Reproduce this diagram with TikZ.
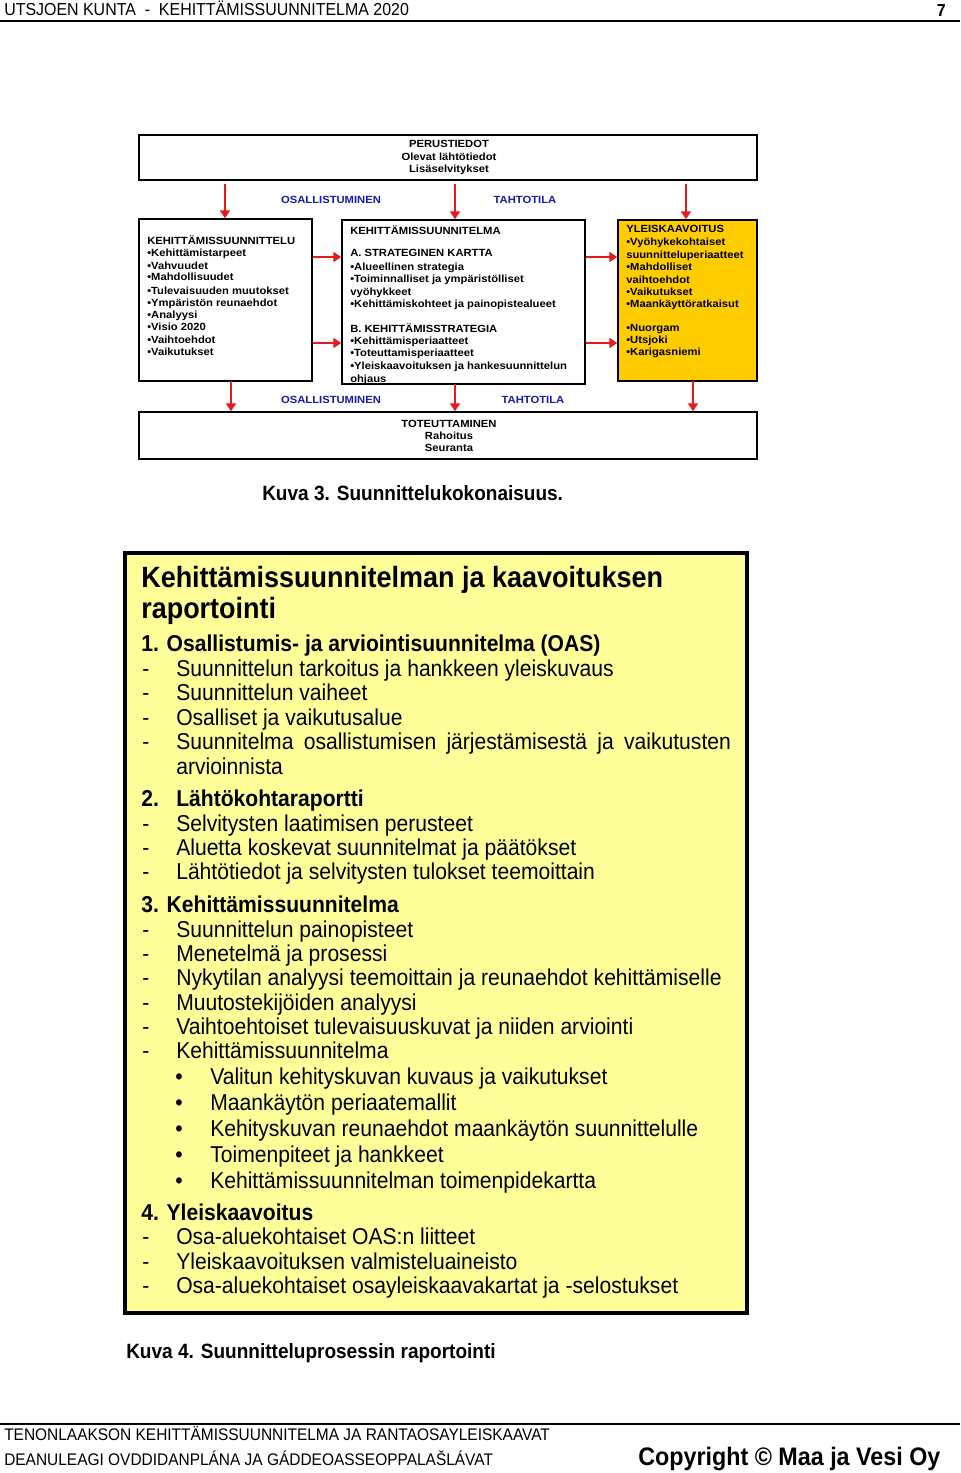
\documentclass[tikz,border=0pt]{standalone}
\usepackage{fontspec}
\setmainfont{Liberation Sans}
\newfontfamily\narrowfont[FakeStretch=0.92]{Liberation Sans}
\newfontfamily\widefont[FakeStretch=1.08]{Liberation Sans}
\usetikzlibrary{arrows.meta,fit}
\definecolor{arrred}{RGB}{228,28,28}
\definecolor{lblue}{RGB}{25,25,170}
\definecolor{gold}{RGB}{255,204,0}
\definecolor{paleyel}{RGB}{255,255,153}
\tikzset{
  frame/.style={draw, line width=1.1pt, inner sep=0pt},
  redarr/.style={draw=arrred, line width=1.7pt, -{Triangle[length=6pt,width=7.5pt]}},
  tiny/.style={font=\widefont\fontsize{7.8}{9}\selectfont\bfseries, anchor=base west, inner sep=0pt},
  tinyc/.style={tiny, anchor=base},
  lab/.style={tiny, anchor=base, text=lblue},
  body/.style={font=\narrowfont\fontsize{17.2}{20}\selectfont, anchor=base west, inner sep=0pt},
  bhead/.style={body, font=\narrowfont\fontsize{17.2}{20}\selectfont\bfseries},
  capt/.style={font=\narrowfont\fontsize{15.5}{18}\selectfont\bfseries, anchor=base west, inner sep=0pt},
  foot/.style={font=\narrowfont\fontsize{12.6}{14}\selectfont, anchor=base west, inner sep=0pt}
}
\begin{document}
\begin{tikzpicture}[x=0.75pt,y=-0.75pt]
  \useasboundingbox (0,0) rectangle (960,1473);
  % page header
  \node[foot, font=\narrowfont\fontsize{13}{15}\selectfont] (hdr) at (4,16) {UTSJOEN KUNTA \ - \ KEHITTÄMISSUUNNITELMA 2020};
  \node[foot, font=\narrowfont\fontsize{13}{15}\selectfont\bfseries, anchor=base east] (pgno) at (946,17) {7};
  \coordinate (hl) at (0,21);
  \coordinate (hr) at (960,21);
  \draw[line width=1.2pt] (hl) -- (hr);

  % Kuva 3
  \node[frame, fit={(139,135) (757,180)}] (perus) {};
  \node[tinyc] (p1) at (449,148) {PERUSTIEDOT};
  \node[tinyc] (p2) at (449,161) {Olevat lähtötiedot};
  \node[tinyc] (p3) at (449,173) {Lisäselvitykset};

  \node[frame, fit={(139,219) (312,381)}] (lbox) {};
  \node[frame, fit={(342,220) (585,384)}] (mbox) {};
  \node[frame, fill=gold, fit={(618,220) (757,381)}] (rbox) {};
  \node[frame, fit={(139,412) (757,459)}] (toteu) {};

  \foreach \yy/\tx in {245/KEHITTÄMISSUUNNITTELU, 257/•Kehittämistarpeet, 269/•Vahvuudet,
      281/•Mahdollisuudet, 294/•Tulevaisuuden muutokset, 306/•Ympäristön reunaehdot,
      318/•Analyysi, 330/•Visio 2020, 343/•Vaihtoehdot, 355/•Vaikutukset}
    \node[tiny] (l\yy) at (147,\yy) {\tx};

  \foreach \yy/\tx in {234/KEHITTÄMISSUUNNITELMA, 257/A. STRATEGINEN KARTTA,
      270/•Alueellinen strategia, 282/•Toiminnalliset ja ympäristölliset,
      295/vyöhykkeet, 307/•Kehittämiskohteet ja painopistealueet,
      332/B. KEHITTÄMISSTRATEGIA, 344/•Kehittämisperiaatteet,
      356/•Toteuttamisperiaatteet, 369/•Yleiskaavoituksen ja hankesuunnittelun,
      382/ohjaus}
    \node[tiny] (m\yy) at (350,\yy) {\tx};

  \foreach \yy/\tx in {233/YLEISKAAVOITUS, 246/•Vyöhykekohtaiset,
      258/suunnitteluperiaatteet, 271/•Mahdolliset, 283/vaihtoehdot,
      295/•Vaikutukset, 307/•Maankäyttöratkaisut, 331/•Nuorgam,
      343/•Utsjoki, 355/•Karigasniemi}
    \node[tiny] (r\yy) at (626,\yy) {\tx};

  \node[tinyc] (t1) at (449,427) {TOTEUTTAMINEN};
  \node[tinyc] (t2) at (449,439) {Rahoitus};
  \node[tinyc] (t3) at (449,451) {Seuranta};

  \node[lab] (os1) at (331,204) {OSALLISTUMINEN};
  \node[lab] (ta1) at (525,204) {TAHTOTILA};
  \node[lab] (os2) at (331,403) {OSALLISTUMINEN};
  \node[lab] (ta2) at (533,403) {TAHTOTILA};

  \coordinate (a1) at (225,184);
  \coordinate (a2) at (455,184);
  \coordinate (a3) at (686,184);
  \coordinate (b1) at (231,381);
  \coordinate (b2) at (455,384);
  \coordinate (b3) at (693,381);
  \coordinate (h1) at (0,257);
  \coordinate (h2) at (0,343);
  \draw[redarr] (a1) -- (a1 |- lbox.north);
  \draw[redarr] (a2) -- (a2 |- mbox.north);
  \draw[redarr] (a3) -- (a3 |- rbox.north);
  \foreach \h in {h1,h2} {
    \draw[redarr] (lbox.east |- \h) -- (mbox.west |- \h);
    \draw[redarr] (mbox.east |- \h) -- (rbox.west |- \h);
  }
  \draw[redarr] (b1) -- (b1 |- toteu.north);
  \draw[redarr] (b2) -- (b2 |- toteu.north);
  \draw[redarr] (b3) -- (b3 |- toteu.north);

  \node[capt] (kuva3) at (262,500) {Kuva 3. Suunnittelukokonaisuus.};

  % Kuva 4
  \node[draw, line width=3pt, fill=paleyel, inner sep=0pt, fit={(125,553) (747,1313)}] (rep) {};
  \node[bhead, font=\narrowfont\fontsize{22}{26}\selectfont\bfseries] (tt1) at (141,587) {Kehittämissuunnitelman ja kaavoituksen};
  \node[bhead, font=\narrowfont\fontsize{22}{26}\selectfont\bfseries] (tt2) at (141,618) {raportointi};

  \node[bhead] (s1) at (141,651) {1. Osallistumis- ja arviointisuunnitelma (OAS)};
  \foreach \yy/\tx in {676/Suunnittelun tarkoitus ja hankkeen yleiskuvaus,
      700/Suunnittelun vaiheet, 725/Osalliset ja vaikutusalue}
    {\node[body] (d\yy) at (142,\yy) {-};
     \node[body] (i\yy) at (176,\yy) {\tx};}
  \node[body] (d749) at (142,749) {-};
  \node[body] (i749) at (176,749) {\makebox[416pt][s]{Suunnitelma osallistumisen järjestämisestä ja vaikutusten}};
  \node[body] (i774) at (176,774) {arvioinnista};

  \node[bhead] (s2n) at (141,806) {2.};
  \node[bhead] (s2) at (176,806) {Lähtökohtaraportti};
  \foreach \yy/\tx in {831/Selvitysten laatimisen perusteet,
      855/Aluetta koskevat suunnitelmat ja päätökset,
      879/Lähtötiedot ja selvitysten tulokset teemoittain}
    {\node[body] (d\yy) at (142,\yy) {-};
     \node[body] (i\yy) at (176,\yy) {\tx};}

  \node[bhead] (s3) at (141,912) {3. Kehittämissuunnitelma};
  \foreach \yy/\tx in {937/Suunnittelun painopisteet, 961/Menetelmä ja prosessi,
      985/Nykytilan analyysi teemoittain ja reunaehdot kehittämiselle,
      1010/Muutostekijöiden analyysi,
      1034/Vaihtoehtoiset tulevaisuuskuvat ja niiden arviointi,
      1058/Kehittämissuunnitelma}
    {\node[body] (d\yy) at (142,\yy) {-};
     \node[body] (i\yy) at (176,\yy) {\tx};}
  \foreach \yy/\tx in {1084/Valitun kehityskuvan kuvaus ja vaikutukset,
      1110/Maankäytön periaatemallit,
      1136/Kehityskuvan reunaehdot maankäytön suunnittelulle,
      1162/Toimenpiteet ja hankkeet,
      1188/Kehittämissuunnitelman toimenpidekartta}
    {\node[body] (b\yy) at (175,\yy) {•};
     \node[body] (i\yy) at (210,\yy) {\tx};}

  \node[bhead] (s4) at (141,1220) {4. Yleiskaavoitus};
  \foreach \yy/\tx in {1244/Osa-aluekohtaiset OAS:n liitteet,
      1269/Yleiskaavoituksen valmisteluaineisto,
      1293/Osa-aluekohtaiset osayleiskaavakartat ja -selostukset}
    {\node[body] (d\yy) at (142,\yy) {-};
     \node[body] (i\yy) at (176,\yy) {\tx};}

  \node[capt] (kuva4) at (126,1358) {Kuva 4. Suunnitteluprosessin raportointi};

  % page footer
  \coordinate (fl) at (0,1424);
  \coordinate (fr) at (960,1424);
  \draw[line width=1.2pt] (fl) -- (fr);
  \node[foot] (ft1) at (4,1440) {TENONLAAKSON KEHITTÄMISSUUNNITELMA JA RANTAOSAYLEISKAAVAT};
  \node[foot] (ft2) at (4,1465) {DEANULEAGI OVDDIDANPLÁNA JA GÁDDEOASSEOPPALAŠLÁVAT};
  \node[foot, font=\narrowfont\fontsize{19}{22}\selectfont\bfseries] (copy) at (638,1465) {Copyright © Maa ja Vesi Oy};
\end{tikzpicture}
\end{document}
